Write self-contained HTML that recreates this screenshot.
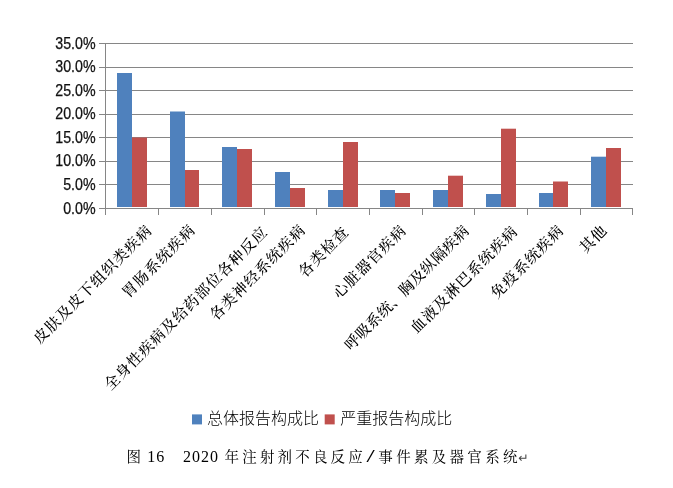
<!DOCTYPE html><html lang="zh-CN"><head><meta charset="utf-8"><title>图16</title><style>html,body{margin:0;padding:0;background:#fff}body{width:673px;height:488px;overflow:hidden}svg{display:block}</style></head><body>
<svg width="673" height="488" viewBox="0 0 673 488">
<rect width="673" height="488" fill="#fff"/>
<g stroke="#868686" stroke-width="1" shape-rendering="crispEdges">
<line x1="99.0" y1="43.50" x2="632.5" y2="43.50"/>
<line x1="99.0" y1="67.07" x2="632.5" y2="67.07"/>
<line x1="99.0" y1="90.64" x2="632.5" y2="90.64"/>
<line x1="99.0" y1="114.21" x2="632.5" y2="114.21"/>
<line x1="99.0" y1="137.79" x2="632.5" y2="137.79"/>
<line x1="99.0" y1="161.36" x2="632.5" y2="161.36"/>
<line x1="99.0" y1="184.93" x2="632.5" y2="184.93"/>
</g>
<g fill="#4F81BD">
<rect x="117" y="73.00" width="15" height="134.00"/>
<rect x="170" y="111.50" width="15" height="95.50"/>
<rect x="222" y="147.00" width="15" height="60.00"/>
<rect x="275" y="172.00" width="15" height="35.00"/>
<rect x="328" y="190.00" width="15" height="17.00"/>
<rect x="380" y="190.00" width="15" height="17.00"/>
<rect x="433" y="190.00" width="15" height="17.00"/>
<rect x="486" y="194.00" width="15" height="13.00"/>
<rect x="539" y="193.00" width="14" height="14.00"/>
<rect x="591" y="156.70" width="15" height="50.30"/>
</g><g fill="#C0504D">
<rect x="132" y="137.50" width="15" height="69.50"/>
<rect x="185" y="170.00" width="14" height="37.00"/>
<rect x="237" y="149.00" width="15" height="58.00"/>
<rect x="290" y="188.00" width="15" height="19.00"/>
<rect x="343" y="142.00" width="15" height="65.00"/>
<rect x="395" y="193.00" width="15" height="14.00"/>
<rect x="448" y="175.70" width="15" height="31.30"/>
<rect x="501" y="128.70" width="15" height="78.30"/>
<rect x="553" y="181.50" width="15" height="25.50"/>
<rect x="606" y="148.00" width="15" height="59.00"/>
</g>
<g stroke="#868686" stroke-width="1" shape-rendering="crispEdges">
<line x1="105.5" y1="43.5" x2="105.5" y2="208.5"/>
<line x1="99.0" y1="208.5" x2="632.5" y2="208.5"/>
<line x1="105.50" y1="208.5" x2="105.50" y2="215.0"/>
<line x1="158.50" y1="208.5" x2="158.50" y2="215.0"/>
<line x1="211.50" y1="208.5" x2="211.50" y2="215.0"/>
<line x1="264.50" y1="208.5" x2="264.50" y2="215.0"/>
<line x1="316.50" y1="208.5" x2="316.50" y2="215.0"/>
<line x1="369.50" y1="208.5" x2="369.50" y2="215.0"/>
<line x1="422.50" y1="208.5" x2="422.50" y2="215.0"/>
<line x1="474.50" y1="208.5" x2="474.50" y2="215.0"/>
<line x1="527.50" y1="208.5" x2="527.50" y2="215.0"/>
<line x1="580.50" y1="208.5" x2="580.50" y2="215.0"/>
<line x1="632.50" y1="208.5" x2="632.50" y2="215.0"/>
</g>
<g font-family="'Liberation Sans', sans-serif" font-size="15.6" fill="#111" stroke="#111" stroke-width="0.25" text-anchor="end">
<text x="95.6" y="48.55" textLength="40.3" lengthAdjust="spacingAndGlyphs">35.0%</text>
<text x="95.6" y="72.12" textLength="40.3" lengthAdjust="spacingAndGlyphs">30.0%</text>
<text x="95.6" y="95.69" textLength="40.3" lengthAdjust="spacingAndGlyphs">25.0%</text>
<text x="95.6" y="119.26" textLength="40.3" lengthAdjust="spacingAndGlyphs">20.0%</text>
<text x="95.6" y="142.84" textLength="40.3" lengthAdjust="spacingAndGlyphs">15.0%</text>
<text x="95.6" y="166.41" textLength="40.3" lengthAdjust="spacingAndGlyphs">10.0%</text>
<text x="95.6" y="189.98" textLength="32.4" lengthAdjust="spacingAndGlyphs">5.0%</text>
<text x="95.6" y="213.55" textLength="32.4" lengthAdjust="spacingAndGlyphs">0.0%</text>
</g>
<g font-family="'Liberation Serif', 'Noto Serif CJK SC', serif" font-size="15" font-weight="500" letter-spacing="1" fill="#000" text-anchor="end">
<text transform="translate(153.00,231.30) rotate(-45)" x="0" y="0" letter-spacing="1">皮肤及皮下组织类疾病</text>
<text transform="translate(196.20,230.80) rotate(-45)" x="0" y="0" letter-spacing="1">胃肠系统疾病</text>
<text transform="translate(268.90,232.70) rotate(-45)" x="0" y="0" letter-spacing="1">全身性疾病及给药部位各种反应</text>
<text transform="translate(306.50,230.80) rotate(-45)" x="0" y="0" letter-spacing="1">各类神经系统疾病</text>
<text transform="translate(349.90,232.90) rotate(-45)" x="0" y="0" letter-spacing="1">各类检查</text>
<text transform="translate(407.20,231.30) rotate(-45)" x="0" y="0" letter-spacing="1">心脏器官疾病</text>
<text transform="translate(470.04,231.76) rotate(-45)" x="0" y="0" letter-spacing="0.35">呼吸系统、胸及纵隔疾病</text>
<text transform="translate(518.70,232.20) rotate(-45)" x="0" y="0" letter-spacing="1">血液及淋巴系统疾病</text>
<text transform="translate(564.90,231.30) rotate(-45)" x="0" y="0" letter-spacing="1">免疫系统疾病</text>
<text transform="translate(608.40,231.20) rotate(-45)" x="0" y="0" letter-spacing="1">其他</text>
</g>
<rect x="192" y="414.4" width="10" height="10" fill="#4F81BD"/>
<rect x="324.7" y="414.4" width="10" height="10" fill="#C0504D"/>
<g font-family="'Liberation Sans', 'Noto Sans CJK SC', sans-serif" font-size="16" font-weight="300" fill="#000">
<text x="207" y="423.6">总体报告构成比</text>
<text x="340.2" y="423.6">严重报告构成比</text>
</g>
<text y="462" font-family="'Liberation Serif', 'Noto Serif CJK SC', serif" font-size="14.5" font-weight="400" fill="#000" xml:space="preserve"><tspan x="126.60">图</tspan><tspan x="142.2" font-size="16" letter-spacing="1.0"> 16  </tspan><tspan x="183.0" font-size="16" letter-spacing="1.0">2020 </tspan><tspan x="224.55" letter-spacing="3.17">年注射剂不良反应</tspan><tspan x="365.5" font-family="'Liberation Mono', monospace" font-size="17">/</tspan><tspan x="378.35" letter-spacing="3.30">事件累及器官系统</tspan><tspan x="518.3" dy="0" font-family="'DejaVu Sans', sans-serif" font-size="12.5" fill="#444">↵</tspan></text>
</svg></body></html>
